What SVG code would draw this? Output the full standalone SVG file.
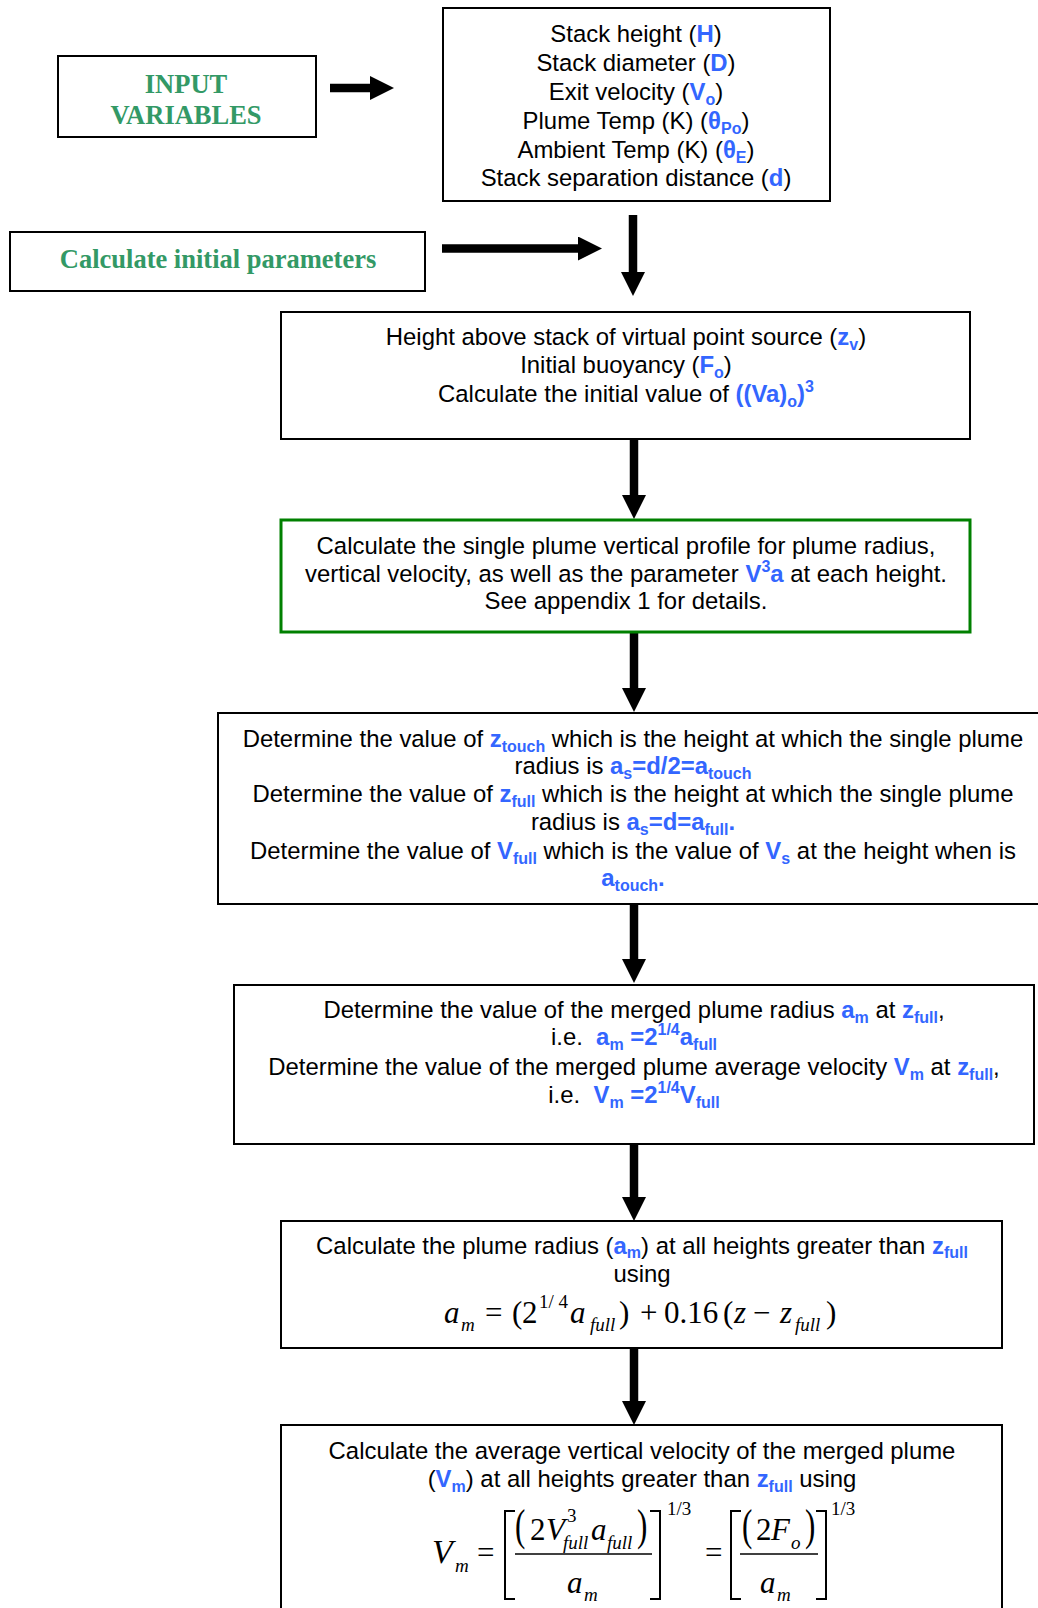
<svg xmlns="http://www.w3.org/2000/svg" width="1038" height="1608" viewBox="0 0 1038 1608">
<defs>
<style>
.t{font-family:"Liberation Sans",Arial,sans-serif;font-size:23.9px;fill:#000;text-anchor:middle}
.b{fill:#3366ff;font-weight:bold}
.s{font-size:16px}
.g{font-family:"Liberation Serif","Times New Roman",serif;font-weight:bold;fill:#339966;font-size:26.5px;text-anchor:middle}
.m{font-family:"Liberation Serif","Times New Roman",serif;font-size:31px;fill:#000}
.ms{font-family:"Liberation Serif","Times New Roman",serif;font-size:19px;fill:#000}
.i{font-style:italic}
.box{fill:#fff;stroke:#000;stroke-width:2}
.gbox{fill:#fff;stroke:#008000;stroke-width:3}
.shaft{stroke:#000;stroke-width:8.5;fill:none}
.br{fill:none;stroke:#000;stroke-width:2}
</style>
<marker id="ah" markerUnits="userSpaceOnUse" markerWidth="25" markerHeight="24" refX="0" refY="12" orient="auto">
<path d="M0,0 L24,12 L0,24 z" fill="#000"/>
</marker>
</defs>
<rect width="1038" height="1608" fill="#fff"/>

<g id="connectors">
<line class="shaft" x1="330" y1="88" x2="370" y2="88" marker-end="url(#ah)"/>
<line class="shaft" x1="442" y1="248.5" x2="578" y2="248.5" marker-end="url(#ah)"/>
<line class="shaft" x1="633" y1="215" x2="633" y2="272" marker-end="url(#ah)"/>
<line class="shaft" x1="634" y1="439" x2="634" y2="495" marker-end="url(#ah)"/>
<line class="shaft" x1="634" y1="632" x2="634" y2="688" marker-end="url(#ah)"/>
<line class="shaft" x1="634" y1="904" x2="634" y2="959" marker-end="url(#ah)"/>
<line class="shaft" x1="634" y1="1144" x2="634" y2="1197" marker-end="url(#ah)"/>
<line class="shaft" x1="634" y1="1348" x2="634" y2="1401" marker-end="url(#ah)"/>
</g>

<g id="input-label">
<rect class="box" x="58" y="56" width="258" height="81"/>
<text class="g" x="186" y="93">INPUT</text>
<text class="g" x="186" y="124">VARIABLES</text>
</g>

<g id="input-vars">
<rect class="box" x="443" y="8" width="387" height="193"/>
<text class="t" x="636" y="42">Stack height (<tspan class="b">H</tspan>)</text>
<text class="t" x="636" y="71">Stack diameter (<tspan class="b">D</tspan>)</text>
<text class="t" x="636" y="99.5">Exit velocity (<tspan class="b">V</tspan><tspan class="b s" dy="5">o</tspan><tspan dy="-5">)</tspan></text>
<text class="t" x="636" y="128.5">Plume Temp (K) (<tspan class="b">θ</tspan><tspan class="b s" dy="5">Po</tspan><tspan dy="-5">)</tspan></text>
<text class="t" x="636" y="157.5">Ambient Temp (K) (<tspan class="b">θ</tspan><tspan class="b s" dy="5">E</tspan><tspan dy="-5">)</tspan></text>
<text class="t" x="636" y="186">Stack separation distance (<tspan class="b">d</tspan>)</text>
</g>

<g id="calc-label">
<rect class="box" x="10" y="232" width="415" height="59"/>
<text class="g" x="218" y="268">Calculate initial parameters</text>
</g>

<g id="initial-params">
<rect class="box" x="281" y="312" width="689" height="127"/>
<text class="t" x="626" y="345">Height above stack of virtual point source (<tspan class="b">z</tspan><tspan class="b s" dy="5">v</tspan><tspan dy="-5">)</tspan></text>
<text class="t" x="626" y="373">Initial buoyancy (<tspan class="b">F</tspan><tspan class="b s" dy="5">o</tspan><tspan dy="-5">)</tspan></text>
<text class="t" x="626" y="402">Calculate the initial value of <tspan class="b">((Va)</tspan><tspan class="b s" dy="5">o</tspan><tspan class="b" dy="-5">)</tspan><tspan class="b s" dy="-10">3</tspan></text>
</g>

<g id="single-plume">
<rect class="gbox" x="281" y="520" width="689" height="112"/>
<text class="t" x="626" y="554">Calculate the single plume vertical profile for plume radius,</text>
<text class="t" x="626" y="582">vertical velocity, as well as the parameter <tspan class="b">V</tspan><tspan class="b s" dy="-10">3</tspan><tspan class="b" dy="10">a</tspan> at each height.</text>
<text class="t" x="626" y="609">See appendix 1 for details.</text>
</g>

<g id="touch-full">
<rect class="box" x="218" y="713" width="840" height="191"/>
<text class="t" x="633" y="747">Determine the value of <tspan class="b">z</tspan><tspan class="b s" dy="5">touch</tspan><tspan dy="-5"> which is the height at which the single plume</tspan></text>
<text class="t" x="633" y="774">radius is <tspan class="b">a</tspan><tspan class="b s" dy="5">s</tspan><tspan class="b" dy="-5">=d/2=a</tspan><tspan class="b s" dy="5">touch</tspan></text>
<text class="t" x="633" y="802">Determine the value of <tspan class="b">z</tspan><tspan class="b s" dy="5">full</tspan><tspan dy="-5"> which is the height at which the single plume</tspan></text>
<text class="t" x="633" y="830">radius is <tspan class="b">a</tspan><tspan class="b s" dy="5">s</tspan><tspan class="b" dy="-5">=d=a</tspan><tspan class="b s" dy="5">full</tspan><tspan class="b" dy="-5">.</tspan></text>
<text class="t" x="633" y="859">Determine the value of <tspan class="b">V</tspan><tspan class="b s" dy="5">full</tspan><tspan dy="-5"> which is the value of </tspan><tspan class="b">V</tspan><tspan class="b s" dy="5">s</tspan><tspan dy="-5"> at the height when is</tspan></text>
<text class="t" x="633" y="886"><tspan class="b">a</tspan><tspan class="b s" dy="5">touch</tspan><tspan class="b" dy="-5">.</tspan></text>
</g>

<g id="merged-values">
<rect class="box" x="234" y="985" width="800" height="159"/>
<text class="t" x="634" y="1018">Determine the value of the merged plume radius <tspan class="b">a</tspan><tspan class="b s" dy="5">m</tspan><tspan dy="-5"> at </tspan><tspan class="b">z</tspan><tspan class="b s" dy="5">full</tspan><tspan dy="-5">,</tspan></text>
<text class="t" x="634" y="1045" xml:space="preserve">i.e.  <tspan class="b">a</tspan><tspan class="b s" dy="5">m</tspan><tspan class="b" dy="-5"> =2</tspan><tspan class="b s" dy="-10">1/4</tspan><tspan class="b" dy="10">a</tspan><tspan class="b s" dy="5">full</tspan></text>
<text class="t" x="634" y="1075">Determine the value of the merged plume average velocity <tspan class="b">V</tspan><tspan class="b s" dy="5">m</tspan><tspan dy="-5"> at </tspan><tspan class="b">z</tspan><tspan class="b s" dy="5">full</tspan><tspan dy="-5">,</tspan></text>
<text class="t" x="634" y="1103" xml:space="preserve">i.e.  <tspan class="b">V</tspan><tspan class="b s" dy="5">m</tspan><tspan class="b" dy="-5"> =2</tspan><tspan class="b s" dy="-10">1/4</tspan><tspan class="b" dy="10">V</tspan><tspan class="b s" dy="5">full</tspan></text>
</g>

<g id="plume-radius">
<rect class="box" x="281" y="1221" width="721" height="127"/>
<text class="t" x="642" y="1254">Calculate the plume radius (<tspan class="b">a</tspan><tspan class="b s" dy="4">m</tspan><tspan dy="-4">) at all heights greater than </tspan><tspan class="b">z</tspan><tspan class="b s" dy="4">full</tspan></text>
<text class="t" x="642" y="1282">using</text>
<text class="m i" x="444" y="1323">a</text>
<text class="ms i" x="461" y="1331">m</text>
<text class="m" x="485" y="1323">=</text>
<text class="m" x="512" y="1323">(</text>
<text class="m" x="522" y="1323">2</text>
<text class="ms" x="539" y="1308">1/ 4</text>
<text class="m i" x="570" y="1323">a</text>
<text class="ms i" x="590" y="1331">full</text>
<text class="m" x="619" y="1323">)</text>
<text class="m" x="640" y="1323">+</text>
<text class="m" x="664" y="1323">0.16</text>
<text class="m" x="723" y="1323">(</text>
<text class="m i" x="734" y="1323">z</text>
<text class="m" x="753" y="1323">−</text>
<text class="m i" x="780" y="1323">z</text>
<text class="ms i" x="795" y="1331">full</text>
<text class="m" x="826" y="1323">)</text>
</g>

<g id="plume-velocity">
<rect class="box" x="281" y="1425" width="721" height="250"/>
<text class="t" x="642" y="1459">Calculate the average vertical velocity of the merged plume</text>
<text class="t" x="642" y="1487">(<tspan class="b">V</tspan><tspan class="b s" dy="5">m</tspan><tspan dy="-5">) at all heights greater than </tspan><tspan class="b">z</tspan><tspan class="b s" dy="5">full</tspan><tspan dy="-5"> using</tspan></text>
<text class="m i" x="432" y="1563" style="font-size:34px">V</text>
<text class="ms i" x="455" y="1572">m</text>
<text class="m" x="477" y="1563">=</text>
<path class="br" d="M515,1511 H505 V1599 H515"/>
<text class="m" transform="translate(515,1540) scale(1,1.45)">(</text>
<text class="m" x="530" y="1540">2</text>
<text class="m i" x="546" y="1540">V</text>
<text class="ms" x="567" y="1522">3</text>
<text class="ms i" x="563" y="1549">full</text>
<text class="m i" x="591" y="1540">a</text>
<text class="ms i" x="607" y="1549">full</text>
<text class="m" transform="translate(637,1540) scale(1,1.45)">)</text>
<line x1="515" y1="1554" x2="652" y2="1554" stroke="#000" stroke-width="1.5"/>
<text class="m i" x="567" y="1593">a</text>
<text class="ms i" x="584" y="1601">m</text>
<path class="br" d="M650,1511 H660 V1599 H650"/>
<text class="ms" x="667" y="1515">1/3</text>
<text class="m" x="705" y="1563">=</text>
<path class="br" d="M741,1511 H731 V1599 H741"/>
<text class="m" transform="translate(742,1540) scale(1,1.45)">(</text>
<text class="m" x="756" y="1540">2</text>
<text class="m i" x="771" y="1540">F</text>
<text class="ms i" x="791" y="1549">o</text>
<text class="m" transform="translate(805,1540) scale(1,1.45)">)</text>
<line x1="740" y1="1554" x2="818" y2="1554" stroke="#000" stroke-width="1.5"/>
<text class="m i" x="760" y="1593">a</text>
<text class="ms i" x="777" y="1601">m</text>
<path class="br" d="M816,1511 H826 V1599 H816"/>
<text class="ms" x="831" y="1515">1/3</text>
</g>
</svg>
